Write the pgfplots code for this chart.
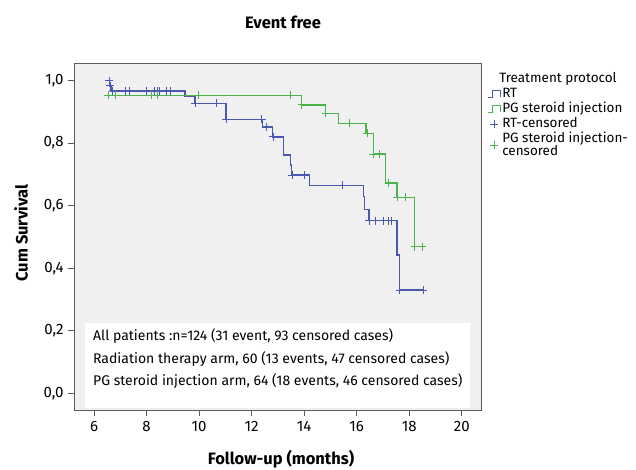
\documentclass[border=0pt]{standalone}
\usepackage{pgfplots}
\pgfplotsset{compat=1.18}
\usepackage{fontspec}
\setmainfont{Fira Sans}
\definecolor{rtblue}{RGB}{76,88,176}
\definecolor{pggreen}{RGB}{76,178,76}
\definecolor{bggray}{RGB}{240,240,240}
\definecolor{framegray}{RGB}{90,90,90}
\newcommand{\fsz}[1]{\fontsize{#1}{#1}\selectfont}
\begin{document}
\begin{tikzpicture}
\useasboundingbox (0pt,0pt) rectangle (636pt,469pt);
\coordinate (SW) at (74.3pt,59pt);
\begin{axis}[
    at={(SW)}, anchor=south west,
    scale only axis, width=407.4pt, height=346.7pt,
    xmin=5.25, xmax=20.76, ymin=-0.053, ymax=1.055,
    xtick={6,8,10,12,14,16,18,20},
    ytick={0,0.2,0.4,0.6,0.8,1},
    axis line style={framegray, line width=0.8pt},
    tick style={framegray, line width=0.8pt},
    tick align=outside, major tick length=6pt,
    xtick pos=bottom, ytick pos=left,
    axis background/.style={fill=bggray},
    ticklabel style={font=\fsz{15}},
    /pgf/number format/assume math mode=true,
    xticklabel style={inner sep=5.5pt},
    yticklabel style={inner sep=4.5pt, /pgf/number format/.cd, fixed, fixed zerofill, precision=1, use comma},
    legend style={at={(1,1)}, anchor=north west, xshift=6pt, yshift=-8pt,
        draw=none, fill=none, font=\fsz{13.5}, inner sep=0pt, row sep=0pt,
        nodes={inner sep=1.25pt, text height=9.5pt, text depth=3pt}},
    legend cell align=left,
]
% text box
\fill[white] (axis cs:5.665,-0.047) rectangle (axis cs:20.32,0.225);
\node[anchor=base west, font=\fsz{14}, inner sep=0pt] at (axis cs:5.96,0.168) {All patients :n=124 (31 event, 93 censored cases)};
\node[anchor=base west, font=\fsz{14}, inner sep=0pt] at (axis cs:5.96,0.096) {Radiation therapy arm, 60 (13 events, 47 censored cases)};
\node[anchor=base west, font=\fsz{14}, inner sep=0pt] at (axis cs:5.96,0.024) {PG steroid injection arm, 64 (18 events, 46 censored cases)};

% RT survival steps
\addplot[rtblue, line width=1.4pt, const plot, forget plot] coordinates {
(6.55,1.0) (6.60,0.983) (6.65,0.967) (9.47,0.948) (9.85,0.927) (11.03,0.876)
(12.42,0.852) (12.80,0.820) (13.22,0.762) (13.49,0.73) (13.52,0.698) (14.20,0.665)
(16.25,0.629) (16.30,0.588) (16.47,0.552) (17.54,0.442) (17.62,0.330) (18.55,0.330)};
% PG steroid injection survival steps
\addplot[pggreen, line width=1.4pt, const plot, forget plot] coordinates {
(6.50,0.953) (13.90,0.922) (14.82,0.895) (15.30,0.863) (16.35,0.831) (16.63,0.765)
(17.10,0.673) (17.54,0.627) (18.21,0.469) (18.52,0.469)};
% RT censored
\addplot[rtblue, only marks, mark=+, mark size=4pt, line width=1pt, forget plot] coordinates {
(6.58,1.0) (6.62,0.983) (6.72,0.967) (7.19,0.967) (7.35,0.967) (8.01,0.967)
(8.29,0.967) (8.43,0.967) (8.49,0.967) (8.75,0.967) (8.90,0.967) (9.85,0.927)
(10.67,0.927) (11.03,0.876) (12.38,0.876) (12.55,0.852) (12.83,0.820) (13.55,0.698)
(14.03,0.698) (15.45,0.665) (16.47,0.552) (16.73,0.552) (17.03,0.552) (17.20,0.552)
(17.34,0.552) (17.64,0.330) (18.53,0.330)};
% PG censored
\addplot[pggreen, only marks, mark=+, mark size=4pt, line width=1pt, forget plot] coordinates {
(6.55,0.953) (6.81,0.953) (8.17,0.953) (8.41,0.953) (9.97,0.953) (13.47,0.953)
(13.90,0.922) (14.82,0.895) (15.71,0.863) (16.40,0.831) (16.63,0.765) (16.85,0.765)
(17.22,0.673) (17.55,0.627) (17.84,0.627) (18.21,0.469) (18.50,0.469)};

\addlegendimage{empty legend}
\addlegendentry{\hspace*{-3pt}Treatment protocol}
\addlegendimage{legend image code/.code={\draw[rtblue, line width=1.1pt] (0pt,-3.5pt) -- (4pt,-3.5pt) -- (4pt,3.5pt) -- (12pt,3.5pt) -- (12pt,-3.5pt);}}
\addlegendentry{RT}
\addlegendimage{legend image code/.code={\draw[pggreen, line width=1.1pt] (0pt,-3.5pt) -- (4pt,-3.5pt) -- (4pt,3.5pt) -- (12pt,3.5pt) -- (12pt,-3.5pt);}}
\addlegendentry{PG steroid injection}
\addlegendimage{legend image code/.code={\draw[rtblue, line width=0.9pt] (6pt,-4pt) -- (6pt,4pt) (2pt,0pt) -- (10pt,0pt);}}
\addlegendentry{RT-censored}
\addlegendimage{legend image code/.code={\draw[pggreen, line width=0.9pt] (6pt,-10.5pt) -- (6pt,-2.5pt) (2pt,-6.5pt) -- (10pt,-6.5pt);}}
\addlegendentry{\def\arraystretch{0.8}\begin{tabular}[t]{@{}l@{}}PG steroid injection-\\censored\end{tabular}}
\end{axis}
\node[font=\bfseries\fsz{16.5}] at (283pt,447pt) {Event free};
\node[font=\bfseries\fsz{16.5}, rotate=90] at (21pt,236pt) {Cum Survival};
\node[font=\bfseries\fsz{16.5}] at (281pt,10pt) {Follow-up (months)};
\end{tikzpicture}
\end{document}
